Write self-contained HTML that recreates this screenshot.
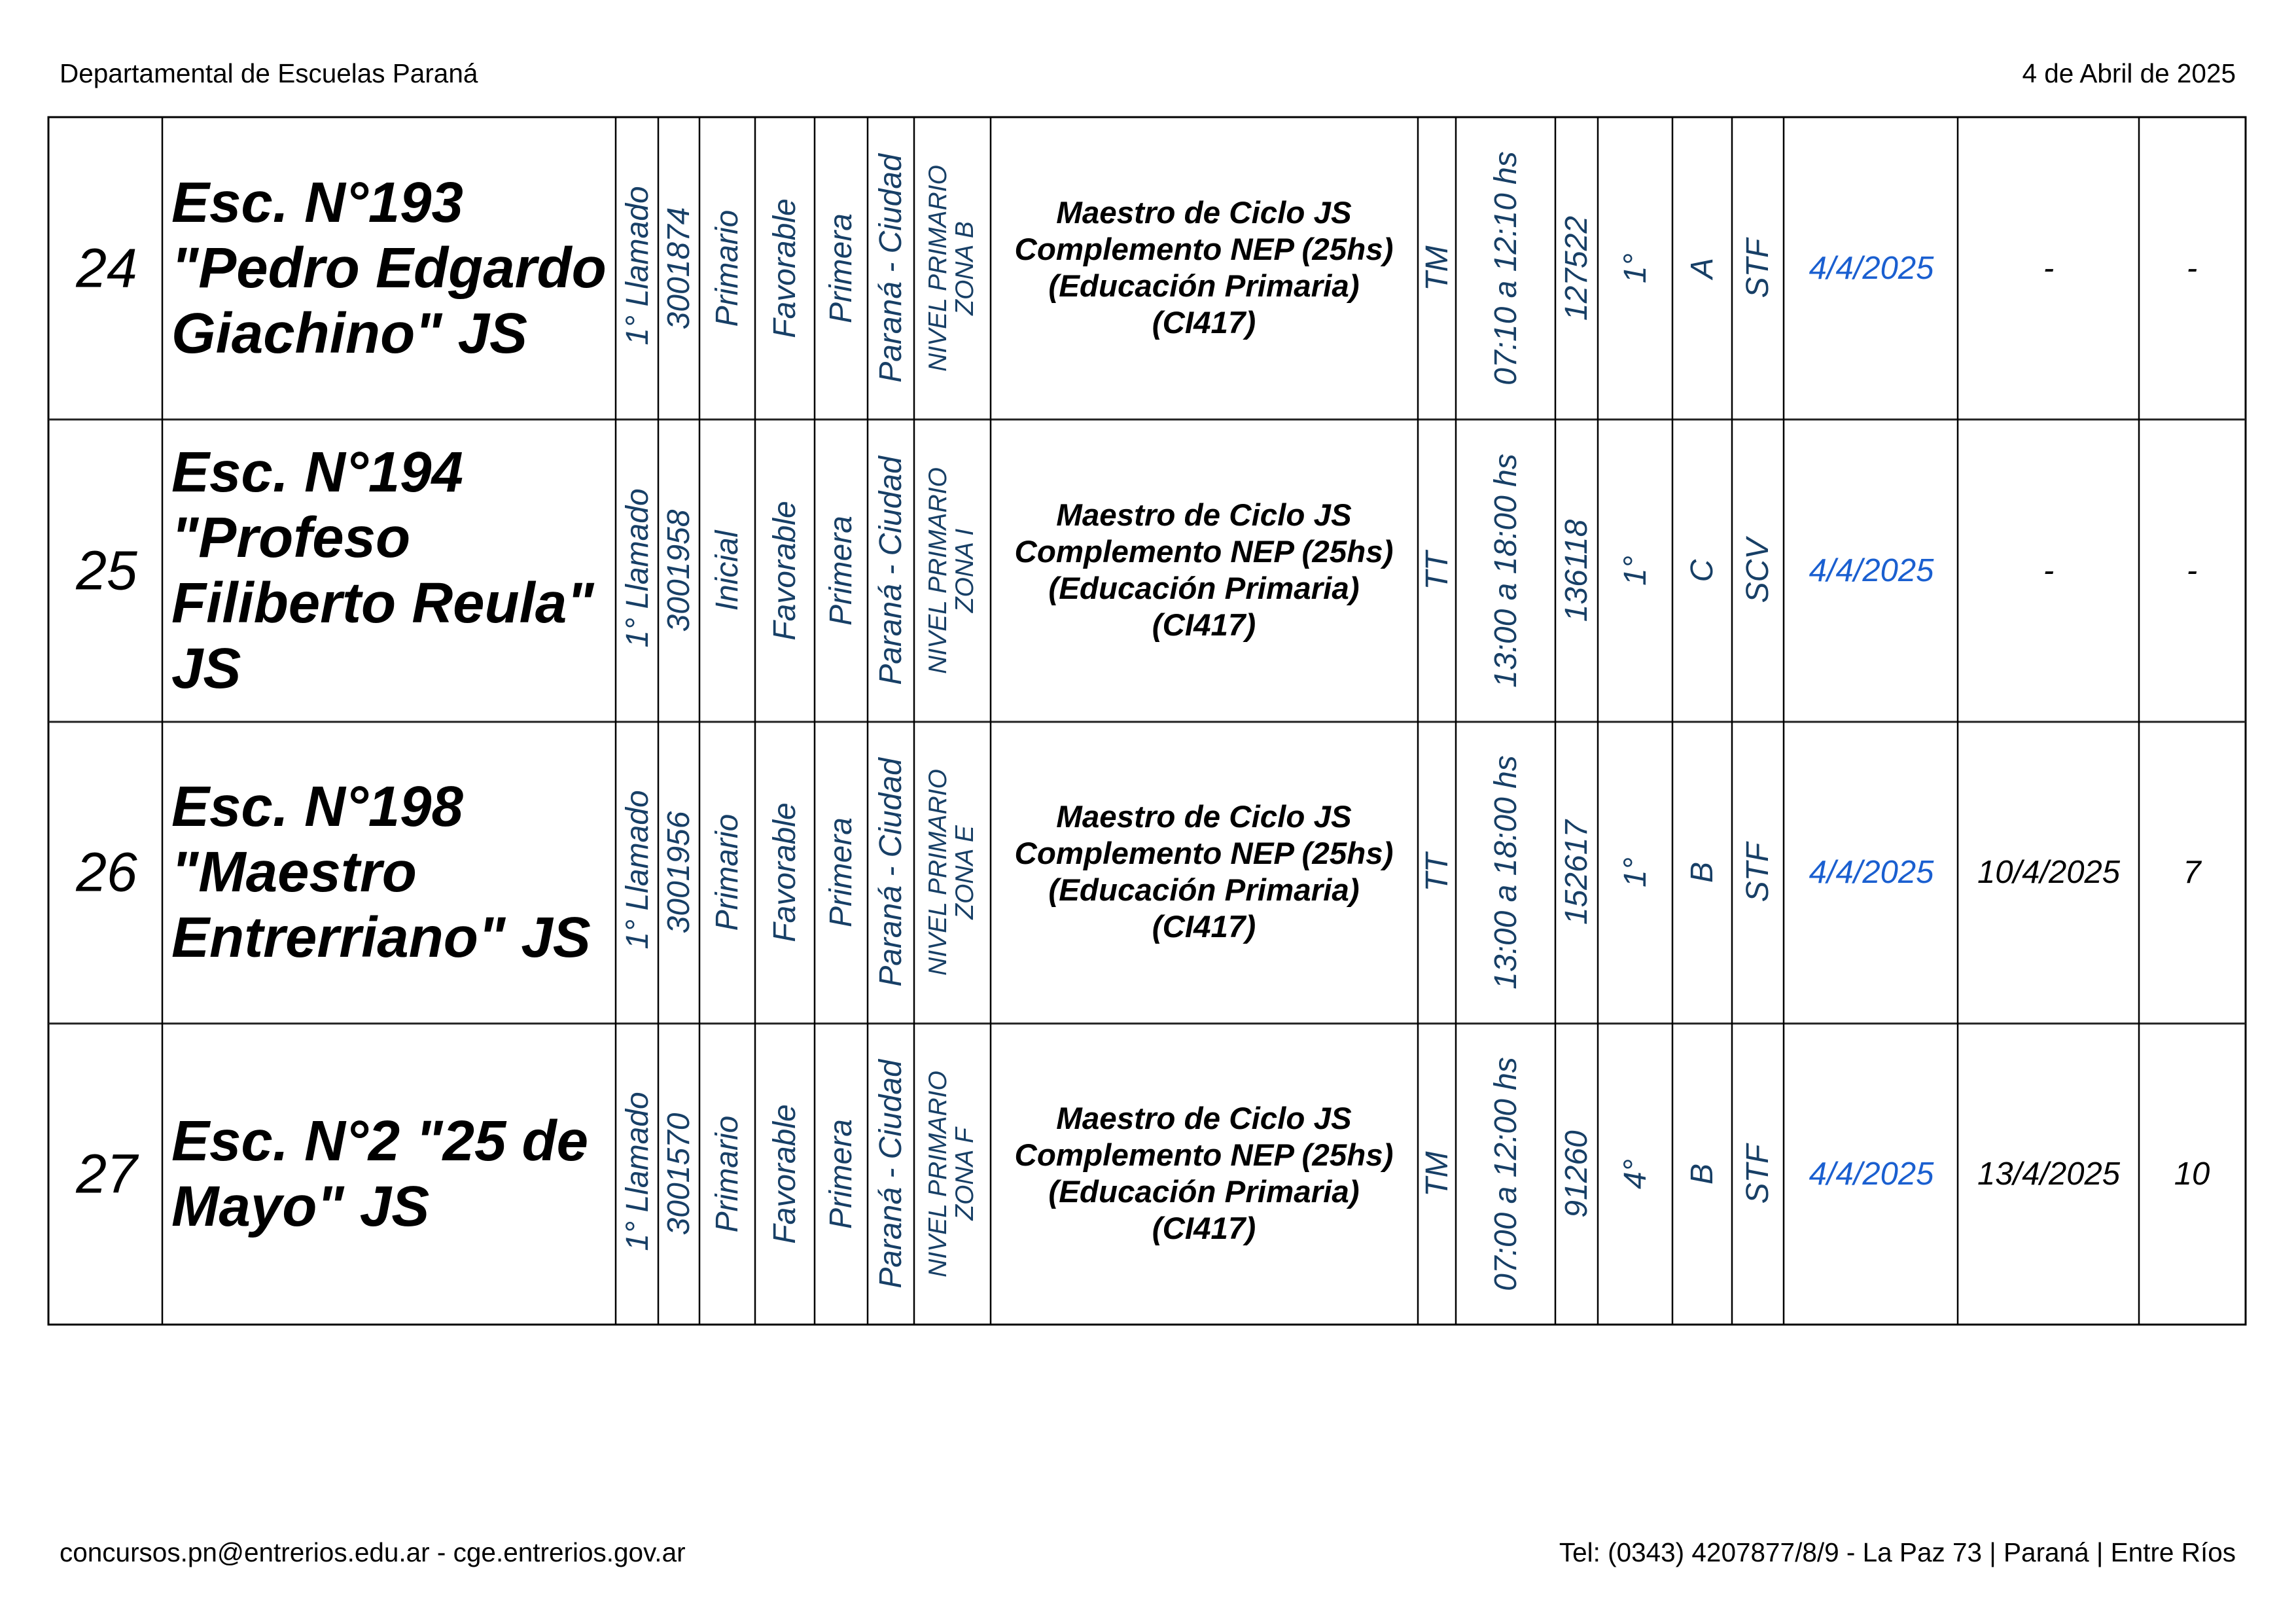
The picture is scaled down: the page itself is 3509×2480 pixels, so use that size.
<!DOCTYPE html>
<html><head><meta charset="utf-8"><style>
html,body{margin:0;padding:0;background:#fff}
body{width:3509px;height:2480px;position:relative;overflow:hidden;font-family:"Liberation Sans",Arial,sans-serif}
.a{position:absolute;white-space:nowrap}
.c{position:absolute;white-space:nowrap;transform:translate(-50%,-50%);text-align:center}
.r{position:absolute;white-space:nowrap;transform:translate(-50%,-50%) rotate(-90deg);text-align:center;font-style:italic;color:#173f66;font-size:48px;line-height:1}
.nv{font-size:39px;line-height:1.05}
.num{font-size:84px;font-style:italic;color:#000}
.name{position:absolute;left:262px;transform:translateY(-50%);font-weight:bold;font-style:italic;font-size:87px;line-height:100px;color:#000;white-space:nowrap}
.mid{font-weight:bold;font-style:italic;font-size:47.5px;line-height:56px;color:#000}
.d1{font-style:italic;font-size:49px;color:#1a5fd0}
.d2{font-style:italic;font-size:49px;color:#000}
.hd{font-size:40.5px;color:#000}
</style></head><body>
<div class="a hd" style="left:91px;top:89px">Departamental de Escuelas Paraná</div>
<div class="a hd" style="right:92px;top:89px">4 de Abril de 2025</div>
<div class="a hd" style="left:91px;top:2349px">concursos.pn@entrerios.edu.ar - cge.entrerios.gov.ar</div>
<div class="a hd" style="right:92px;top:2349px">Tel: (0343) 4207877/8/9 - La Paz 73 | Paraná | Entre Ríos</div>

<svg class="a" style="left:0;top:0" width="3509" height="2480">
<g stroke="#000" stroke-width="3" fill="none">
<rect x="74" y="179" width="3358" height="1845"/>
<line x1="74" y1="641" x2="3432" y2="641" stroke="#222"/>
<line x1="74" y1="1103" x2="3432" y2="1103" stroke="#222"/>
<line x1="74" y1="1564" x2="3432" y2="1564" stroke="#222"/>
<g stroke-width="2.5">
<line x1="248" y1="179" x2="248" y2="2024"/>
<line x1="941" y1="179" x2="941" y2="2024"/>
<line x1="1006" y1="179" x2="1006" y2="2024"/>
<line x1="1069" y1="179" x2="1069" y2="2024"/>
<line x1="1154" y1="179" x2="1154" y2="2024"/>
<line x1="1245" y1="179" x2="1245" y2="2024"/>
<line x1="1326" y1="179" x2="1326" y2="2024"/>
<line x1="1397" y1="179" x2="1397" y2="2024"/>
<line x1="1514" y1="179" x2="1514" y2="2024"/>
<line x1="2167" y1="179" x2="2167" y2="2024"/>
<line x1="2225" y1="179" x2="2225" y2="2024"/>
<line x1="2377" y1="179" x2="2377" y2="2024"/>
<line x1="2442" y1="179" x2="2442" y2="2024"/>
<line x1="2556" y1="179" x2="2556" y2="2024"/>
<line x1="2647" y1="179" x2="2647" y2="2024"/>
<line x1="2726" y1="179" x2="2726" y2="2024"/>
<line x1="2992" y1="179" x2="2992" y2="2024"/>
<line x1="3269" y1="179" x2="3269" y2="2024"/>
</g></g></svg>

<!-- Row 1 -->
<div class="c num" style="left:163px;top:410px">24</div>
<div class="name" style="top:410px">Esc. N°193<br>"Pedro Edgardo<br>Giachino" JS</div>
<div class="r" style="left:975px;top:406px">1° Llamado</div>
<div class="r" style="left:1038px;top:410px">3001874</div>
<div class="r" style="left:1112px;top:410px">Primario</div>
<div class="r" style="left:1200px;top:410px">Favorable</div>
<div class="r" style="left:1286px;top:410px">Primera</div>
<div class="r" style="left:1362px;top:410px">Paraná - Ciudad</div>
<div class="r nv" style="left:1455px;top:410px">NIVEL PRIMARIO<br>ZONA B</div>
<div class="c mid" style="left:1840px;top:410px">Maestro de Ciclo JS<br>Complemento NEP (25hs)<br>(Educación Primaria)<br>(CI417)</div>
<div class="r" style="left:2197px;top:410px">TM</div>
<div class="r" style="left:2302px;top:410px">07:10 a 12:10 hs</div>
<div class="r" style="left:2410px;top:410px">127522</div>
<div class="r" style="left:2500px;top:410px">1°</div>
<div class="r" style="left:2602px;top:410px">A</div>
<div class="r" style="left:2687px;top:410px">STF</div>
<div class="c d1" style="left:2860px;top:410px">4/4/2025</div>
<div class="c d2" style="left:3131px;top:410px">-</div>
<div class="c d2" style="left:3350px;top:410px">-</div>

<!-- Row 2 -->
<div class="c num" style="left:163px;top:872px">25</div>
<div class="name" style="top:872px">Esc. N°194<br>"Profeso<br>Filiberto Reula"<br>JS</div>
<div class="r" style="left:975px;top:868px">1° Llamado</div>
<div class="r" style="left:1038px;top:872px">3001958</div>
<div class="r" style="left:1112px;top:872px">Inicial</div>
<div class="r" style="left:1200px;top:872px">Favorable</div>
<div class="r" style="left:1286px;top:872px">Primera</div>
<div class="r" style="left:1362px;top:872px">Paraná - Ciudad</div>
<div class="r nv" style="left:1455px;top:872px">NIVEL PRIMARIO<br>ZONA I</div>
<div class="c mid" style="left:1840px;top:872px">Maestro de Ciclo JS<br>Complemento NEP (25hs)<br>(Educación Primaria)<br>(CI417)</div>
<div class="r" style="left:2197px;top:872px">TT</div>
<div class="r" style="left:2302px;top:872px">13:00 a 18:00 hs</div>
<div class="r" style="left:2410px;top:872px">136118</div>
<div class="r" style="left:2500px;top:872px">1°</div>
<div class="r" style="left:2602px;top:872px">C</div>
<div class="r" style="left:2687px;top:872px">SCV</div>
<div class="c d1" style="left:2860px;top:872px">4/4/2025</div>
<div class="c d2" style="left:3131px;top:872px">-</div>
<div class="c d2" style="left:3350px;top:872px">-</div>

<!-- Row 3 -->
<div class="c num" style="left:163px;top:1333px">26</div>
<div class="name" style="top:1333px">Esc. N°198<br>"Maestro<br>Entrerriano" JS</div>
<div class="r" style="left:975px;top:1329px">1° Llamado</div>
<div class="r" style="left:1038px;top:1333px">3001956</div>
<div class="r" style="left:1112px;top:1333px">Primario</div>
<div class="r" style="left:1200px;top:1333px">Favorable</div>
<div class="r" style="left:1286px;top:1333px">Primera</div>
<div class="r" style="left:1362px;top:1333px">Paraná - Ciudad</div>
<div class="r nv" style="left:1455px;top:1333px">NIVEL PRIMARIO<br>ZONA E</div>
<div class="c mid" style="left:1840px;top:1333px">Maestro de Ciclo JS<br>Complemento NEP (25hs)<br>(Educación Primaria)<br>(CI417)</div>
<div class="r" style="left:2197px;top:1333px">TT</div>
<div class="r" style="left:2302px;top:1333px">13:00 a 18:00 hs</div>
<div class="r" style="left:2410px;top:1333px">152617</div>
<div class="r" style="left:2500px;top:1333px">1°</div>
<div class="r" style="left:2602px;top:1333px">B</div>
<div class="r" style="left:2687px;top:1333px">STF</div>
<div class="c d1" style="left:2860px;top:1333px">4/4/2025</div>
<div class="c d2" style="left:3131px;top:1333px">10/4/2025</div>
<div class="c d2" style="left:3350px;top:1333px">7</div>

<!-- Row 4 -->
<div class="c num" style="left:163px;top:1794px">27</div>
<div class="name" style="top:1794px">Esc. N°2 "25 de<br>Mayo" JS</div>
<div class="r" style="left:975px;top:1790px">1° Llamado</div>
<div class="r" style="left:1038px;top:1794px">3001570</div>
<div class="r" style="left:1112px;top:1794px">Primario</div>
<div class="r" style="left:1200px;top:1794px">Favorable</div>
<div class="r" style="left:1286px;top:1794px">Primera</div>
<div class="r" style="left:1362px;top:1794px">Paraná - Ciudad</div>
<div class="r nv" style="left:1455px;top:1794px">NIVEL PRIMARIO<br>ZONA F</div>
<div class="c mid" style="left:1840px;top:1794px">Maestro de Ciclo JS<br>Complemento NEP (25hs)<br>(Educación Primaria)<br>(CI417)</div>
<div class="r" style="left:2197px;top:1794px">TM</div>
<div class="r" style="left:2302px;top:1794px">07:00 a 12:00 hs</div>
<div class="r" style="left:2410px;top:1794px">91260</div>
<div class="r" style="left:2500px;top:1794px">4°</div>
<div class="r" style="left:2602px;top:1794px">B</div>
<div class="r" style="left:2687px;top:1794px">STF</div>
<div class="c d1" style="left:2860px;top:1794px">4/4/2025</div>
<div class="c d2" style="left:3131px;top:1794px">13/4/2025</div>
<div class="c d2" style="left:3350px;top:1794px">10</div>
</body></html>
